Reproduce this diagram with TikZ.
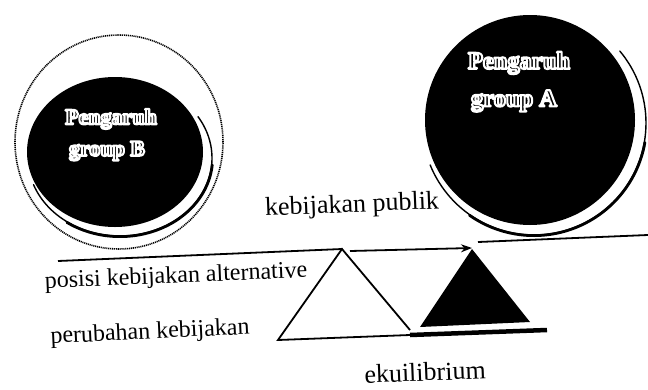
\documentclass[tikz,border=0pt]{standalone}
\usepackage{fontspec}
\setmainfont{Liberation Serif}
\usetikzlibrary{arrows.meta}
\newcommand\halotext[1]{\special{pdf:literal direct 2 Tr 1 1 1 RG 2.1 w 1 j}#1\special{pdf:literal direct 0 Tr 0 0 0 RG}}
\begin{document}
\begin{tikzpicture}[x=1pt,y=-1pt,
  beam/.style={line width=1.8pt},
  lbl/.style={inner sep=0pt, rotate=2.3},
  grp/.style={inner sep=0pt, text=black, font=\bfseries\fontsize{23}{26}\selectfont},
  thinring/.style={line width=1.4pt, line cap=round},
  thickring/.style={line width=2.8pt, line cap=round}]
\useasboundingbox[fill=white] (0,0) rectangle (648,389);
% group B
\draw[line width=1.6pt, dash pattern=on 1.1pt off 0.8pt] (119,142) ellipse [x radius=104pt, y radius=107pt];
\fill[black] (115,152) ellipse [x radius=88pt, y radius=75pt];
\draw[thinring] plot[domain=-32:160, samples=80, variable=\t] ({120+92*cos(\t)}, {158+78*sin(\t)});
\draw[thickring] plot[domain=5:125, samples=60, variable=\t] ({120+92.6*cos(\t)}, {158+78.6*sin(\t)});
\node[grp, font=\bfseries\fontsize{22}{26}\selectfont] (pB1) at (111,119) {\halotext{Pengaruh}};
\node[grp, font=\bfseries\fontsize{22}{26}\selectfont] (pB2) at (107,151) {\halotext{group B}};
% group A
\fill[black] (530,120) circle [radius=105pt];
\draw[thinring] plot[domain=-40:158, samples=80, variable=\t] ({534+112*cos(\t)}, {123+112*sin(\t)});
\draw[thickring] plot[domain=10:125, samples=60, variable=\t] ({534+112.6*cos(\t)}, {123+112.6*sin(\t)});
\node[grp, font=\bfseries\fontsize{24.5}{26}\selectfont] (pA1) at (519,63) {\halotext{Pengaruh}};
\node[grp, font=\bfseries\fontsize{24.5}{26}\selectfont] (pA2) at (514,101) {\halotext{group A}};
% labels
\node[lbl, font=\fontsize{26}{30}\selectfont] (pub) at (352,206) {kebijakan publik};
\node[lbl, font=\fontsize{24}{30}\selectfont] (pos) at (176,277) {posisi kebijakan alternative};
\node[lbl, font=\fontsize{24}{30}\selectfont, rotate=0.4] (chg) at (150,333) {perubahan kebijakan};
\node[lbl, font=\fontsize{26}{30}\selectfont] (eq) at (425,372) {ekuilibrium};
% beam and fulcrum
\coordinate (bl) at (58,261);
\coordinate (apex) at (342,249);
\coordinate (arrS) at (350,251);
\coordinate (arrE) at (472,248);
\coordinate (br1) at (478,242);
\coordinate (br2) at (648,235);
\coordinate (tl) at (278,340);
\coordinate (tr) at (410,330);
\coordinate (bs) at (410,335);
\coordinate (be) at (547,330);
\coordinate (k1) at (472,249);
\coordinate (k2) at (420,327);
\coordinate (k3) at (530,322);
\draw[beam] (bl) -- (apex);
\draw[beam, -{Stealth[length=11pt, width=8pt]}] (arrS) -- (arrE);
\draw[beam] (br1) -- (br2);
\draw[beam, line join=miter] (tr) -- (apex) -- (tl) -- (bs);
\draw[line width=4.5pt] (bs) -- (be);
\fill[black] (k1) -- (k2) -- (k3) -- cycle;
\end{tikzpicture}
\end{document}
